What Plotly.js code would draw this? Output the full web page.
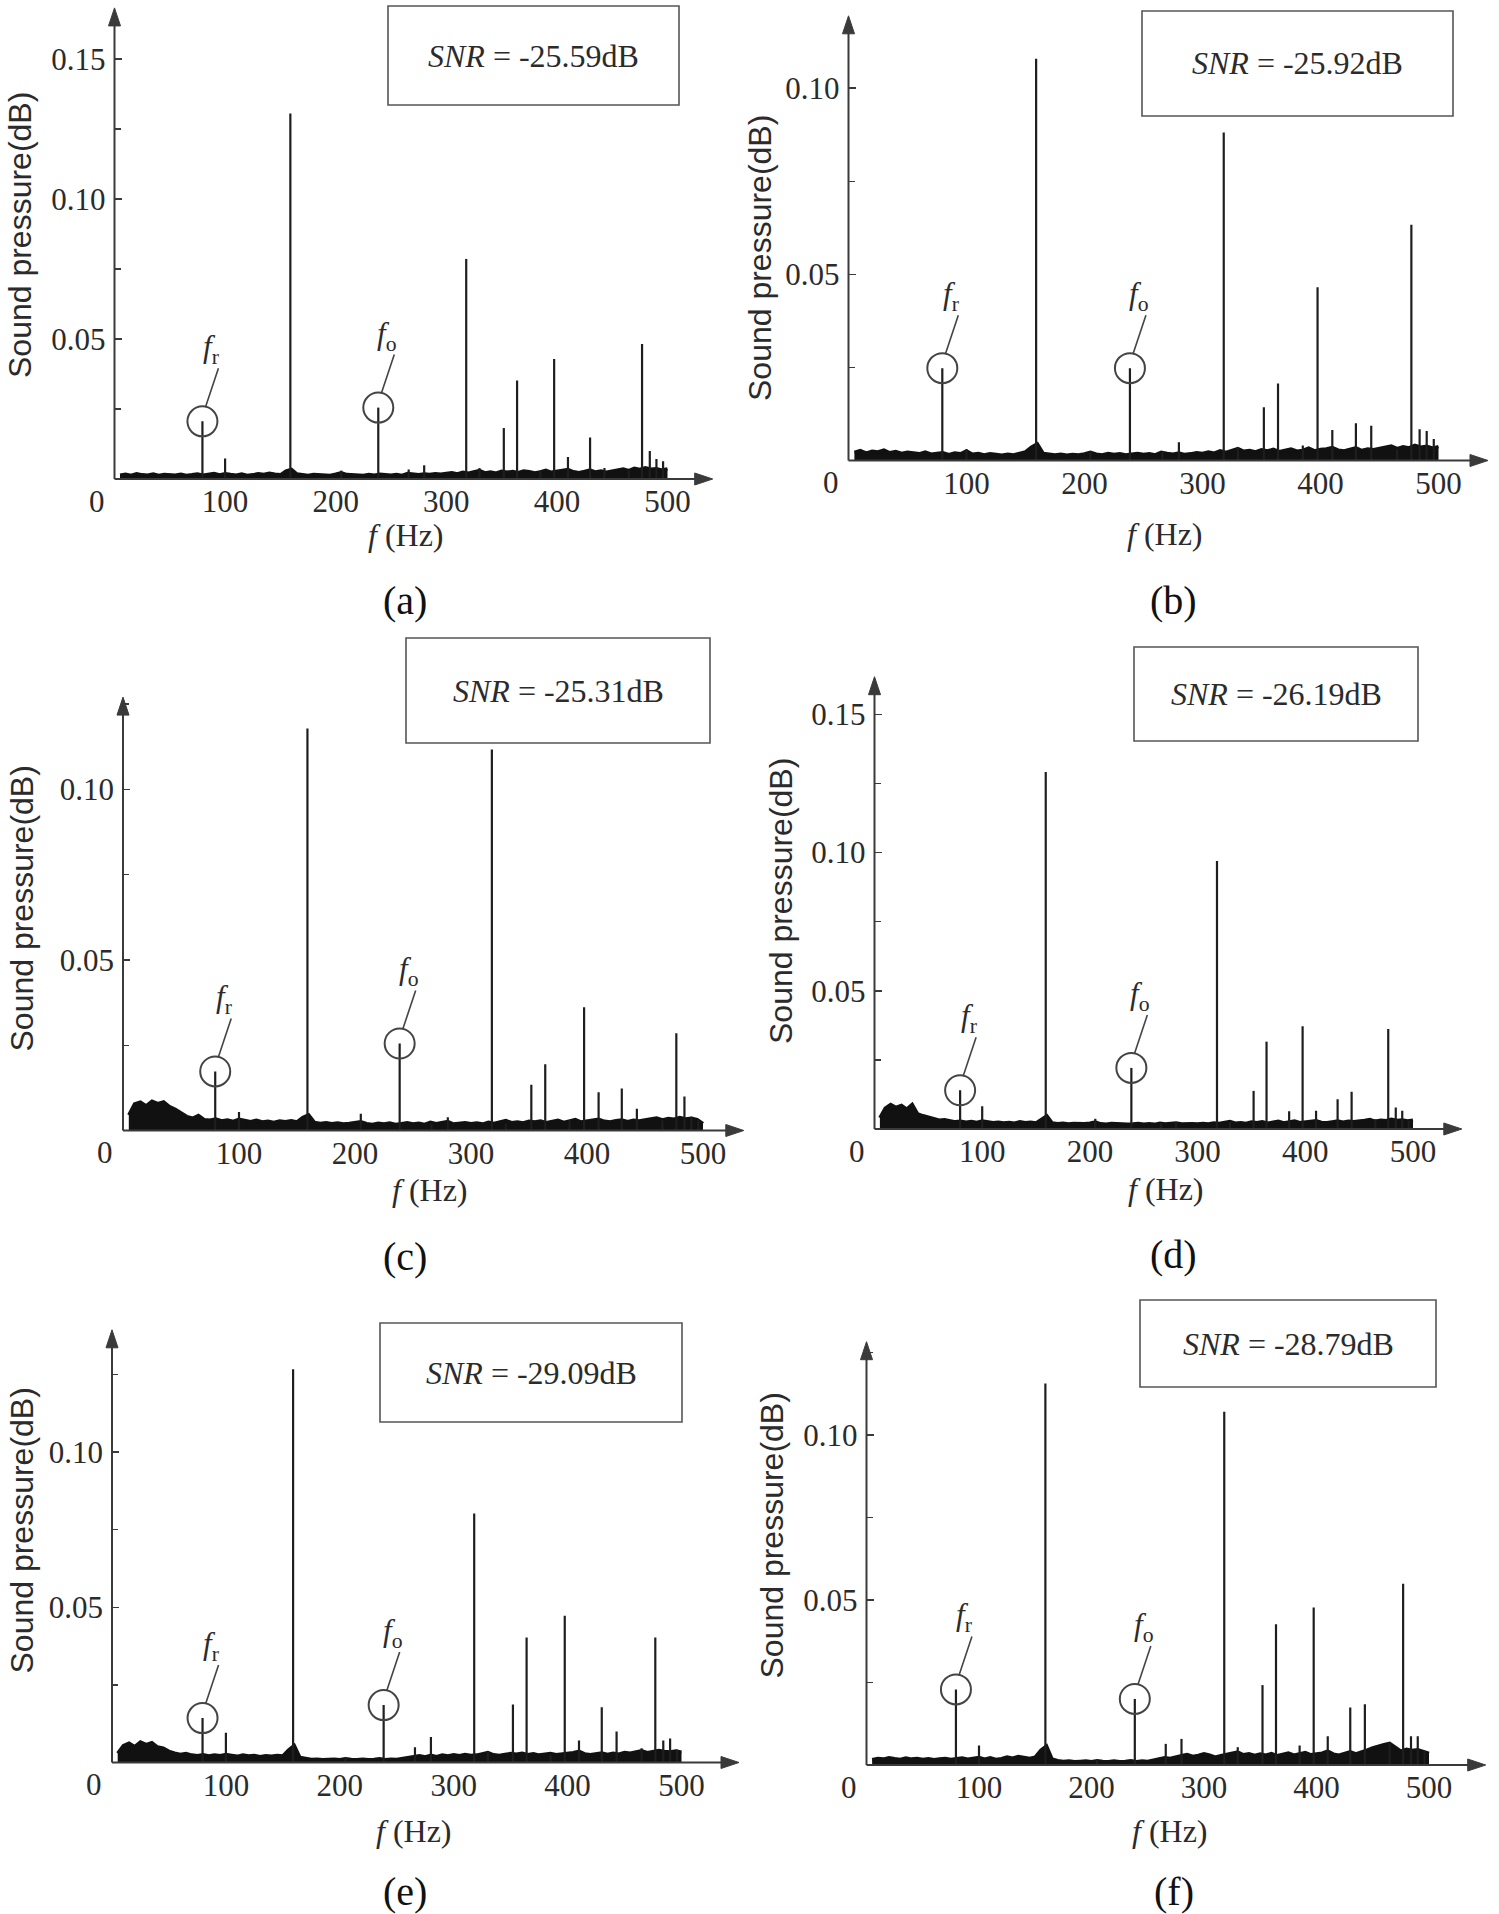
<!DOCTYPE html>
<html><head><meta charset="utf-8">
<script src="https://cdn.plot.ly/plotly-3.0.1.min.js"></script>
<style>html,body{margin:0;padding:0;background:#fff}</style>
</head><body><div id="chart" style="width:1499px;height:1914px"></div>
<script>
// ---------------- DATA ----------------
const NOISE_FREQ = [5,10,15,20,25,30,35,40,45,50,55,60,65,70,75,80,85,90,95,100,
105,110,115,120,125,130,135,140,145,150,155,160,165,170,175,180,185,190,195,200,
205,210,215,220,225,230,235,240,245,250,255,260,265,270,275,280,285,290,295,300,
305,310,315,320,325,330,335,340,345,350,355,360,365,370,375,380,385,390,395,400,
405,410,415,420,425,430,435,440,445,450,455,460,465,470,475,480,485,490,495,500];

const PEAK_FREQ = [79.5,100,159,205,238.5,266,280,318,330,352,364,385,397.5,410,430,443,465,477,484,490,496];
const FR = 79.5;
const FO = 238.5;

const PANEL_LABELS = ['(a)','(b)','(c)','(d)','(e)','(f)'];
const SNR_DB = ['-25.59','-25.92','-25.31','-26.19','-29.09','-28.79'];
const X_TICKS = [100,200,300,400,500];
const X_TICK_TEXT = ['100','200','300','400','500'];
const Y_TICKS = [0.05,0.10,0.15];
const Y_TICK_TEXT = ['0.05','0.10','0.15'];
const Y_MINOR = [0.025,0.075,0.125];

const noiseA = [.0014,.0017,.0013,.0019,.0015,.0014,.0018,.0013,.0016,.0015,
.0014,.0017,.0013,.0015,.0018,.0014,.0016,.0020,.0015,.0019,
.0016,.0014,.0018,.0013,.0015,.0019,.0016,.0021,.0017,.0015,
.0028,.0034,.0018,.0015,.0013,.0016,.0014,.0015,.0013,.0017,
.0022,.0016,.0014,.0015,.0013,.0016,.0014,.0017,.0015,.0014,
.0016,.0013,.0020,.0017,.0015,.0018,.0016,.0019,.0017,.0020,
.0022,.0018,.0024,.0021,.0026,.0030,.0022,.0025,.0021,.0028,
.0024,.0027,.0023,.0029,.0026,.0022,.0025,.0031,.0024,.0028,
.0029,.0034,.0026,.0023,.0027,.0032,.0025,.0029,.0024,.0028,
.0032,.0036,.0030,.0038,.0034,.0040,.0035,.0037,.0032,.0036];

const noiseB = [.0022,.0027,.0020,.0025,.0023,.0028,.0021,.0024,.0019,.0022,
.0020,.0018,.0023,.0017,.0019,.0021,.0016,.0020,.0018,.0026,
.0017,.0019,.0015,.0018,.0016,.0014,.0017,.0015,.0019,.0023,
.0036,.0045,.0019,.0016,.0015,.0017,.0014,.0016,.0015,.0018,
.0022,.0017,.0015,.0019,.0016,.0018,.0015,.0017,.0019,.0016,
.0018,.0015,.0022,.0019,.0017,.0020,.0016,.0018,.0021,.0019,
.0023,.0020,.0026,.0022,.0028,.0032,.0025,.0027,.0023,.0029,
.0026,.0030,.0024,.0028,.0031,.0025,.0027,.0033,.0026,.0030,
.0031,.0035,.0028,.0026,.0030,.0034,.0027,.0031,.0029,.0033,
.0035,.0039,.0032,.0037,.0034,.0041,.0036,.0038,.0033,.0037];

const noiseC = [.0045,.0078,.0083,.0072,.0086,.0079,.0084,.0070,.0062,.0050,
.0041,.0036,.0044,.0032,.0030,.0034,.0028,.0031,.0027,.0033,
.0029,.0026,.0030,.0025,.0027,.0024,.0028,.0026,.0029,.0025,
.0038,.0046,.0024,.0021,.0023,.0020,.0022,.0019,.0021,.0024,
.0026,.0020,.0018,.0021,.0019,.0022,.0018,.0020,.0023,.0019,
.0021,.0018,.0024,.0020,.0022,.0026,.0019,.0021,.0023,.0020,
.0022,.0019,.0024,.0021,.0026,.0029,.0023,.0025,.0022,.0027,
.0025,.0028,.0023,.0026,.0030,.0024,.0027,.0032,.0025,.0028,
.0030,.0033,.0027,.0025,.0029,.0031,.0026,.0030,.0028,.0032,
.0034,.0037,.0031,.0035,.0033,.0038,.0034,.0036,.0032,.0020];

const noiseD = [.0040,.0075,.0089,.0078,.0085,.0072,.0089,.0055,.0048,.0042,
.0036,.0032,.0034,.0029,.0026,.0028,.0025,.0027,.0024,.0029,
.0026,.0023,.0025,.0022,.0024,.0021,.0026,.0023,.0025,.0022,
.0035,.0048,.0022,.0019,.0021,.0018,.0020,.0018,.0019,.0021,
.0025,.0019,.0017,.0020,.0018,.0019,.0017,.0018,.0020,.0017,
.0019,.0017,.0021,.0018,.0019,.0022,.0018,.0020,.0019,.0018,
.0020,.0018,.0022,.0020,.0024,.0027,.0021,.0023,.0020,.0025,
.0023,.0026,.0021,.0024,.0028,.0022,.0025,.0029,.0023,.0026,
.0027,.0030,.0024,.0023,.0026,.0029,.0025,.0028,.0026,.0030,
.0031,.0034,.0028,.0032,.0030,.0035,.0031,.0033,.0029,.0032];

const noiseE = [.0030,.0054,.0062,.0051,.0066,.0058,.0064,.0050,.0046,.0036,
.0030,.0026,.0029,.0024,.0022,.0025,.0021,.0024,.0022,.0026,
.0023,.0020,.0024,.0021,.0023,.0019,.0022,.0020,.0023,.0021,
.0040,.0055,.0016,.0012,.0010,.0011,.0009,.0010,.0011,.0009,
.0012,.0010,.0009,.0011,.0009,.0010,.0012,.0009,.0011,.0010,
.0013,.0016,.0020,.0022,.0018,.0023,.0019,.0024,.0021,.0025,
.0022,.0026,.0023,.0024,.0028,.0032,.0025,.0023,.0026,.0029,
.0027,.0030,.0025,.0028,.0024,.0026,.0029,.0025,.0027,.0030,
.0032,.0036,.0028,.0025,.0029,.0031,.0026,.0030,.0027,.0032,
.0030,.0034,.0038,.0032,.0035,.0039,.0036,.0034,.0037,.0033];

const noiseF = [.0016,.0020,.0018,.0022,.0019,.0017,.0021,.0018,.0020,.0017,
.0019,.0016,.0018,.0020,.0017,.0019,.0021,.0018,.0020,.0023,
.0018,.0022,.0017,.0019,.0024,.0021,.0026,.0023,.0020,.0024,
.0045,.0058,.0018,.0013,.0011,.0012,.0010,.0011,.0012,.0010,
.0013,.0011,.0010,.0012,.0010,.0011,.0013,.0010,.0012,.0011,
.0014,.0017,.0022,.0020,.0025,.0028,.0032,.0026,.0029,.0034,
.0030,.0024,.0028,.0032,.0036,.0039,.0031,.0034,.0029,.0033,
.0030,.0035,.0028,.0032,.0036,.0030,.0033,.0038,.0031,.0034,
.0036,.0042,.0033,.0030,.0035,.0040,.0034,.0039,.0045,.0052,
.0058,.0062,.0066,.0054,.0042,.0048,.0044,.0046,.0040,.0035];

// peak amplitudes, same order as PEAK_FREQ
const peaksA = [.0206,.0073,.1305,.0030,.0255,.0034,.0049,.0786,.0039,.0182,.0352,.0030,.0429,.0079,.0148,.0039,.0030,.0482,.0100,.0071,.0063];
const peaksB = [.0248,.0030,.1079,.0025,.0248,.0025,.0049,.0881,.0036,.0143,.0207,.0040,.0465,.0082,.0100,.0093,.0030,.0633,.0084,.0079,.0058];
const peaksC = [.0173,.0054,.1178,.0049,.0255,.0020,.0039,.1117,.0020,.0134,.0194,.0030,.0361,.0112,.0123,.0064,.0030,.0285,.0100,.0040,.0030];
const peaksD = [.0140,.0082,.1292,.0037,.0221,.0020,.0025,.0970,.0025,.0138,.0316,.0064,.0372,.0066,.0108,.0135,.0035,.0362,.0078,.0066,.0030];
const peaksE = [.0143,.0096,.1267,.0015,.0185,.0049,.0082,.0802,.0035,.0187,.0403,.0025,.0473,.0071,.0178,.0100,.0046,.0403,.0071,.0077,.0042];
const peaksF = [.0229,.0059,.1155,.0015,.0200,.0064,.0079,.1070,.0054,.0242,.0426,.0059,.0477,.0087,.0174,.0184,.0069,.0549,.0087,.0087,.0043];

const NOISE = [noiseA,noiseB,noiseC,noiseD,noiseE,noiseF];
const PEAKS = [peaksA,peaksB,peaksC,peaksD,peaksE,peaksF];

// ---------------- LAYOUT GEOMETRY (pixels) ----------------
const W = 1499, H = 1914;
const GEO = [
 {x0:114.5, pxHz:1.106, xTip:712.7, base:479,    pxU:2800, yTip:7.9,    snr:[388,679,6,105],      yt:[20,235],    xt:[406,535],     lab:[405,600]},
 {x0:848.5, pxHz:1.180, xTip:1488,  base:460.5,  pxU:3724, yTip:15.8,   snr:[1142,1453,11,116],   yt:[760,258],   xt:[1165,534],    lab:[1173,600]},
 {x0:123,   pxHz:1.160, xTip:743.8, base:1130.5, pxU:3412, yTip:697.1,  snr:[406,710,638,743],    yt:[21.5,909],  xt:[430,1190],    lab:[405,1256]},
 {x0:874.5, pxHz:1.077, xTip:1461.8,base:1129,   pxU:2764, yTip:676.7,  snr:[1134,1418,647,741],  yt:[781,901],   xt:[1166,1189],   lab:[1173,1254]},
 {x0:112,   pxHz:1.139, xTip:739,   base:1762.5, pxU:3104, yTip:1329.8, snr:[380,682,1323,1422],  yt:[21.5,1531], xt:[414,1831],    lab:[405,1891]},
 {x0:866.5, pxHz:1.125, xTip:1485.7,base:1765,   pxU:3302, yTip:1341.7, snr:[1140,1436,1300,1387],yt:[771.5,1536],xt:[1170,1831],   lab:[1174,1891]}
];
const px = v => v / W;
const py = v => 1 - v / H;

const SERIF = 'Liberation Serif, Times New Roman, serif';
const SANS = 'Liberation Sans, Arial, sans-serif';
const TXT = '#2b2b2b';
const AX = '#3a3a3a';

const data = [];
const shapes = [];
const annotations = [];
const layout = {
  width: W, height: H, margin: {l:0, r:0, t:0, b:0},
  paper_bgcolor: '#fff', plot_bgcolor: 'rgba(0,0,0,0)',
  showlegend: false, shapes: shapes, annotations: annotations
};

GEO.forEach((g, i) => {
  const k = i + 1;
  const xs = k === 1 ? '' : String(k);
  const xref = 'x' + xs, yref = 'y' + xs;
  const xmax = (g.xTip - g.x0) / g.pxHz;
  const ymax = (g.base - g.yTip) / g.pxU;

  layout['xaxis' + xs] = {
    domain: [px(g.x0), px(g.xTip)], range: [0, xmax], anchor: yref,
    showline: false, zeroline: false, showgrid: false,
    tickmode: 'array', tickvals: X_TICKS, ticktext: X_TICK_TEXT, ticks: '',
    ticklabelstandoff: 1,
    tickfont: {family: SERIF, size: 31, color: TXT}, fixedrange: true
  };
  const yv = [], yt = [];
  Y_TICKS.forEach((v, j) => { if (v < ymax) { yv.push(v); yt.push(Y_TICK_TEXT[j]); } });
  layout['yaxis' + xs] = {
    domain: [py(g.base), py(g.yTip)], range: [0, ymax], anchor: xref,
    showline: false, zeroline: false, showgrid: false,
    tickmode: 'array', tickvals: yv, ticktext: yt,
    ticks: 'inside', ticklen: 7, tickwidth: 1.5, tickcolor: AX,
    ticklabelstandoff: 8,
    minor: {tickmode: 'array', tickvals: Y_MINOR.filter(v => v < ymax), ticks: 'inside', ticklen: 6, tickwidth: 1.2, tickcolor: AX},
    tickfont: {family: SERIF, size: 31, color: TXT}, fixedrange: true
  };

  // noise floor
  data.push({
    x: NOISE_FREQ, y: NOISE[i], xaxis: xref, yaxis: yref, type: 'scatter', mode: 'lines',
    line: {color: '#111', width: 3.4}, fill: 'tozeroy', fillcolor: '#111', hoverinfo: 'skip'
  });
  // spectral peaks as stems
  const sx = [], sy = [];
  PEAK_FREQ.forEach((f, j) => { sx.push(f, f, null); sy.push(0, PEAKS[i][j], null); });
  data.push({
    x: sx, y: sy, xaxis: xref, yaxis: yref, type: 'scatter', mode: 'lines',
    line: {color: '#1e1e1e', width: 2.2}, hoverinfo: 'skip'
  });
  // circles at fr and fo
  const ampFr = PEAKS[i][PEAK_FREQ.indexOf(FR)];
  const ampFo = PEAKS[i][PEAK_FREQ.indexOf(FO)];
  data.push({
    x: [FR, FO], y: [ampFr, ampFo], xaxis: xref, yaxis: yref, type: 'scatter', mode: 'markers',
    marker: {symbol: 'circle-open', size: 30, color: '#444', line: {width: 2, color: '#444'}},
    cliponaxis: false, hoverinfo: 'skip'
  });
  // leaders + labels
  [[FR, ampFr, 'r'], [FO, ampFo, 'o']].forEach(([f, a, s]) => {
    shapes.push({type: 'line', xref: xref, yref: yref, xsizemode: 'pixel', ysizemode: 'pixel',
      xanchor: f, yanchor: a, x0: 3, y0: 14, x1: 16, y1: 53, line: {color: '#444', width: 1.6}});
    annotations.push({xref: xref, yref: yref, x: f, y: a, xshift: 9, yshift: 72, showarrow: false,
      text: '<i>f</i><sub>' + s + '</sub>', font: {family: SERIF, size: 31, color: TXT}});
  });
  // "0" at origin
  annotations.push({xref: xref, yref: yref, x: 0, y: 0, xshift: -18, yshift: -22, showarrow: false,
    text: '0', font: {family: SERIF, size: 31, color: TXT}});

  // axis lines with arrows
  const AL = 18, AW = 6;
  shapes.push({type: 'line', xref: 'paper', yref: 'paper', x0: px(g.x0), y0: py(g.base), x1: px(g.xTip - AL + 2), y1: py(g.base), line: {color: AX, width: 2}});
  shapes.push({type: 'line', xref: 'paper', yref: 'paper', x0: px(g.x0), y0: py(g.base), x1: px(g.x0), y1: py(g.yTip + AL - 2), line: {color: AX, width: 2}});
  shapes.push({type: 'path', xref: 'paper', yref: 'paper', fillcolor: AX, line: {color: AX, width: 1},
    path: `M${px(g.xTip)},${py(g.base)} L${px(g.xTip - AL)},${py(g.base - AW)} L${px(g.xTip - AL)},${py(g.base + AW)} Z`});
  shapes.push({type: 'path', xref: 'paper', yref: 'paper', fillcolor: AX, line: {color: AX, width: 1},
    path: `M${px(g.x0)},${py(g.yTip)} L${px(g.x0 - AW)},${py(g.yTip + AL)} L${px(g.x0 + AW)},${py(g.yTip + AL)} Z`});

  // SNR box
  shapes.push({type: 'rect', xref: 'paper', yref: 'paper', x0: px(g.snr[0]), x1: px(g.snr[1]), y0: py(g.snr[3]), y1: py(g.snr[2]),
    line: {color: '#555', width: 1.6}, fillcolor: 'rgba(0,0,0,0)'});
  annotations.push({xref: 'paper', yref: 'paper', x: px((g.snr[0] + g.snr[1]) / 2), y: py((g.snr[2] + g.snr[3]) / 2),
    showarrow: false, xanchor: 'center', yanchor: 'middle',
    text: '<i>SNR</i> = ' + SNR_DB[i] + 'dB', font: {family: SERIF, size: 32, color: TXT}});

  // axis titles and panel label
  annotations.push({xref: 'paper', yref: 'paper', x: px(g.yt[0]), y: py(g.yt[1]), showarrow: false,
    xanchor: 'center', yanchor: 'middle', textangle: -90,
    text: 'Sound pressure(dB)', font: {family: SANS, size: 32, color: TXT}});
  annotations.push({xref: 'paper', yref: 'paper', x: px(g.xt[0]), y: py(g.xt[1]), showarrow: false,
    xanchor: 'center', yanchor: 'middle',
    text: '<i>f</i> (Hz)', font: {family: SERIF, size: 32, color: TXT}});
  annotations.push({xref: 'paper', yref: 'paper', x: px(g.lab[0]), y: py(g.lab[1]), showarrow: false,
    xanchor: 'center', yanchor: 'middle',
    text: PANEL_LABELS[i], font: {family: SERIF, size: 40, color: '#111'}});
});

Plotly.newPlot('chart', data, layout, {staticPlot: true, displayModeBar: false});
</script>
</body></html>
